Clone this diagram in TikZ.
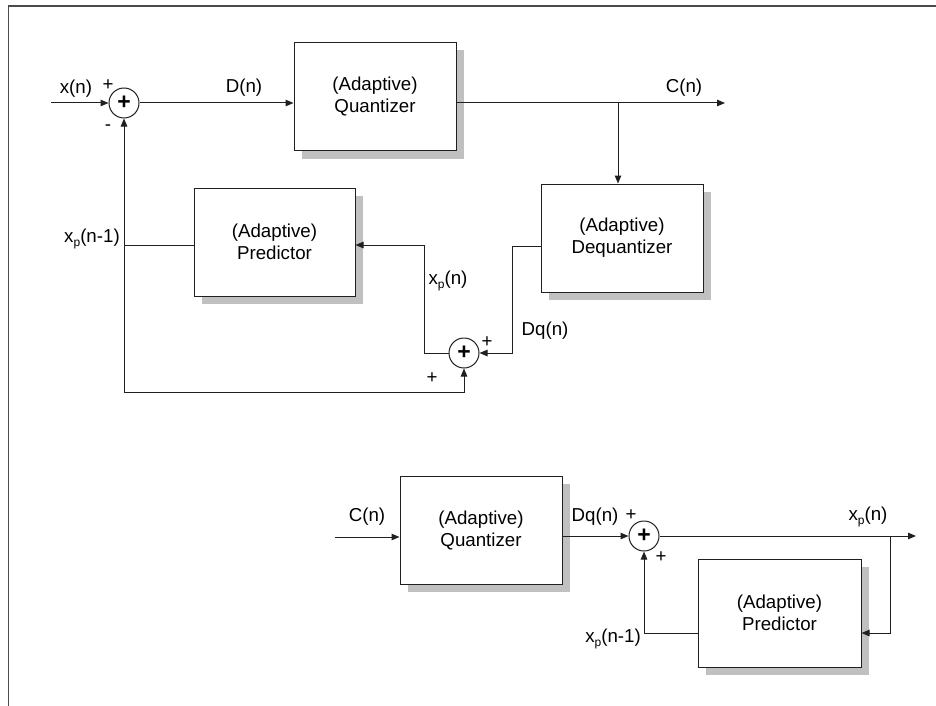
\documentclass[tikz,border=0pt]{standalone}
\usepackage{fontspec}
\setmainfont{Liberation Sans}
\usetikzlibrary{arrows.meta,shadows}
\definecolor{shadowgray}{HTML}{C0C0C0}
\definecolor{linegray}{HTML}{202020}
\newcommand{\xp}[1]{x\raisebox{-0.45ex}{\fontsize{12}{12}\selectfont p}(#1)}
\tikzset{
  blockbox/.style={draw=linegray, fill=white, line width=1pt, minimum width=162pt,
    minimum height=108pt, align=center, inner sep=0pt,
    drop shadow={shadow xshift=8pt, shadow yshift=-8pt, fill=shadowgray, opacity=1}},
  sumnode/.style={draw=linegray, circle, line width=1pt, minimum size=30pt, inner sep=0pt,
    font=\fontsize{23}{23}\selectfont\bfseries},
  wire/.style={draw=linegray, line width=1pt},
  sig/.style={wire, -{Triangle[length=8pt,width=6.5pt]}},
  lbl/.style={inner sep=0pt, font=\fontsize{18.7}{22}\selectfont},
  frameline/.style={draw=black!70, line width=1.6pt}
}
\begin{document}
\begin{tikzpicture}[x=1pt, y=-1pt, font=\fontsize{18.7}{22}\selectfont]
\useasboundingbox (0,0) rectangle (936,706);

% page frame
\coordinate (fa) at (936,6);
\coordinate (fb) at (8.5,6);
\coordinate (fc) at (8.5,706);
\draw[frameline] (fa) -- (fb) -- (fc);

% ---------------- encoder ----------------
\node[blockbox] (q1) at (375,96.5) {(Adaptive)\\Quantizer};
\node[blockbox, minimum height=108pt] (dq) at (622,238) {(Adaptive)\\Dequantizer};
\node[blockbox, minimum width=161pt] (p1) at (274.5,242) {(Adaptive)\\Predictor};
\node[sumnode] (s1) at (124,103) {+};
\node[sumnode] (s2) at (464,353) {+};

\coordinate (xin) at (51,103);
\coordinate (cout) at (725,103);
\coordinate (br) at (618,103);
\coordinate (bl) at (124,392);
\coordinate (dqo) at ([yshift=-8pt]dq.west);
\coordinate (pi) at ([yshift=-3pt]p1.east);
\coordinate (po) at ([yshift=-3pt]p1.west);

\draw[sig] (xin) -- (s1);
\draw[sig] (s1) -- (s1 -| q1.west);
\draw[sig] (s1 -| q1.east) -- (cout);
\draw[sig] (br) -- (br |- dq.north);
\draw[sig] (dqo) -| ([xshift=33pt]s2.east) -- (s2.east);
\draw[sig] (s2.west) -- ++(-24,0) |- (pi);
\draw[wire] (po) -- (po -| s1);
\draw[wire, {Triangle[length=8pt,width=6.5pt]}-{Triangle[length=8pt,width=6.5pt]}]
  (s1.south) -- (bl) -| (s2.south);

\node[lbl] (lx) at (76,89) {x(n)};
\node[lbl] (lp1) at (108,85) {+};
\node[lbl] (lm1) at (108,128) {-};
\node[lbl] (ld) at (244,88) {D(n)};
\node[lbl] (lc) at (684,88) {C(n)};
\node[lbl] (lxp1) at (92,239) {\xp{n-1}};
\node[lbl] (lxp) at (448,281) {\xp{n}};
\node[lbl] (ldq) at (545,331) {Dq(n)};
\node[lbl] (lp2) at (487,342) {+};
\node[lbl] (lp3) at (432,378) {+};

% ---------------- decoder ----------------
\node[blockbox] (q2) at (481,530) {(Adaptive)\\Quantizer};
\node[blockbox, minimum width=163pt] (p2) at (779.5,613) {(Adaptive)\\Predictor};
\node[sumnode] (s3) at (644,536) {+};

\coordinate (cin) at (335,537);
\coordinate (xout) at (916,536);
\coordinate (br2) at (890,536);
\coordinate (p2i) at ([yshift=-20pt]p2.east);
\coordinate (p2o) at ([yshift=-20pt]p2.west);

\draw[sig] (cin) -- (cin -| q2.west);
\draw[sig] (s3 -| q2.east) -- (s3);
\draw[sig] (s3) -- (xout);
\draw[sig] (br2) |- (p2i);
\draw[sig] (p2o) -| (s3.south);

\node[lbl] (lc2) at (367,517) {C(n)};
\node[lbl] (ldq2) at (595,517) {Dq(n)};
\node[lbl] (lp4) at (631,515) {+};
\node[lbl] (lp5) at (661,557) {+};
\node[lbl] (lxp2) at (868,517) {\xp{n}};
\node[lbl] (lxp3) at (613,639) {\xp{n-1}};
\end{tikzpicture}
\end{document}
